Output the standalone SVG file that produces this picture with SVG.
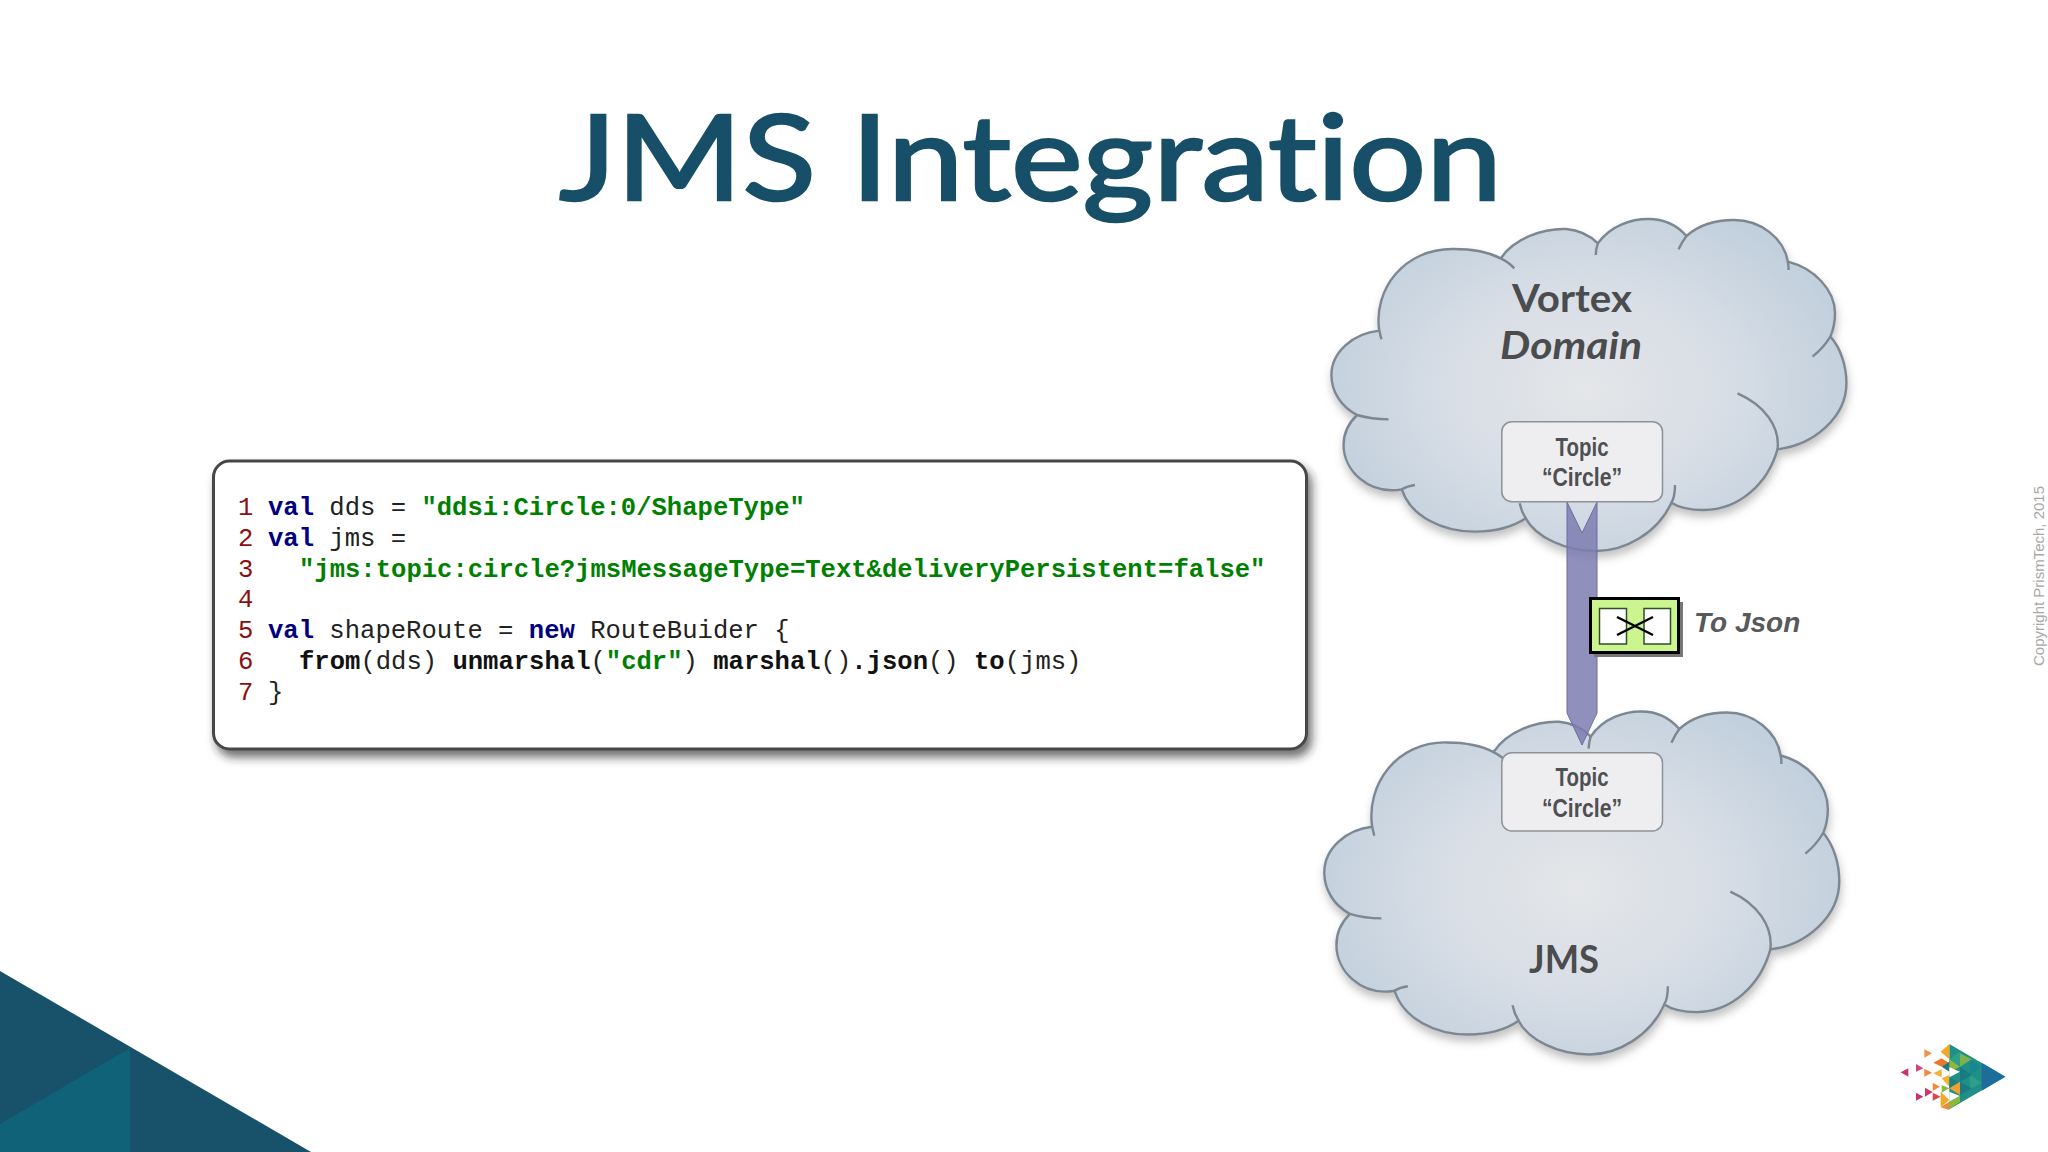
<svg xmlns="http://www.w3.org/2000/svg" width="2048" height="1152" viewBox="0 0 2048 1152">
<style>
.code{font-family:"Liberation Mono",monospace;font-size:25.57px;fill:#222;white-space:pre}
.n{fill:#8a1010}.k{fill:#000080;font-weight:bold}.s{fill:#008000;font-weight:bold}.b{font-weight:bold;fill:#111}
.topic{font-family:"Liberation Sans",sans-serif;font-weight:bold;font-size:26px;fill:#4f5053;text-anchor:middle}
.cl{font-family:Lato,"Liberation Sans",sans-serif;font-weight:bold;font-size:38px;fill:#4b4c4e;font-variant-ligatures:none}
.tb{fill:#eeeef0;stroke:#8d9296;stroke-width:1.5}
.co{fill:url(#cg);stroke:#7d8791;stroke-width:2.4;vector-effect:non-scaling-stroke}
.ti{fill:none;stroke:#7d8791;stroke-width:2.4;vector-effect:non-scaling-stroke}
</style>
<defs>
<radialGradient id="cg" gradientUnits="userSpaceOnUse" cx="800" cy="560" r="760" gradientTransform="translate(0 130) scale(1 .78)">
<stop offset="0" stop-color="#e4e6e8"/><stop offset=".5" stop-color="#d8dee6"/><stop offset="1" stop-color="#c2d0dd"/>
</radialGradient>
<filter id="cs" x="-10%" y="-10%" width="120%" height="120%"><feDropShadow dx="1" dy="6" stdDeviation="4" flood-color="#666" flood-opacity=".4"/></filter>
<filter id="bs" x="-5%" y="-10%" width="110%" height="125%"><feDropShadow dx="4" dy="7" stdDeviation="5" flood-color="#222" flood-opacity=".65"/></filter>
<g id="cloud">
<path class="co" d="M222 392C205 270 290 145 430 147C490 147 535 160 562 175C600 115 680 85 745 87C780 90 810 105 834 130C870 75 930 57 975 57C1020 57 1055 75 1082 108C1120 72 1170 60 1215 60C1290 60 1355 115 1366 185C1440 205 1498 270 1498 340C1498 360 1495 385 1485 410C1515 445 1530 500 1530 550C1530 650 1440 735 1337 748C1310 850 1230 930 1130 930C1100 930 1065 925 1040 908C1000 1000 910 1053 830 1053C740 1053 660 1010 632 955C590 985 540 995 490 995C400 995 310 950 285 868C190 885 122 810 122 735C122 700 135 670 160 645C115 620 88 575 88 525C88 455 150 400 222 392Z"/>
<path class="ti" d="M222 392Q225 405 228 418M562 175Q585 187 600 205M834 130Q829 145 828 165M1082 108Q1070 125 1060 148M1366 185Q1368 195 1368 210M1485 410Q1465 445 1435 470M1337 748C1345 680 1300 615 1225 580M1040 908C1050 890 1050 870 1050 855M632 955Q620 935 615 910M285 868Q300 858 322 855M160 645Q200 658 248 658"/>
</g>
</defs>
<rect width="2048" height="1152" fill="#fff"/>
<g id="corner">
<polygon points="0,971 311,1152 0,1152" fill="#17526a"/>
<polygon points="130,1048 130,1152 0,1152 0,1124" fill="#0f6277"/>
</g>
<text id="title" x="559" y="200" font-family="Lato,'Liberation Sans',sans-serif" font-size="118" fill="#174f68" stroke="#174f68" stroke-width="2.500" textLength="943" lengthAdjust="spacingAndGlyphs" style="font-variant-ligatures:none">JMS Integration</text>
<g id="code-box">
<rect x="213.500" y="461" width="1093" height="288" rx="16" fill="#fff" stroke="#474747" stroke-width="3" filter="url(#bs)"/>
<text class="code" y="515"><tspan class="n" x="238">1</tspan><tspan class="k" x="268">val</tspan> dds = <tspan class="s">"ddsi:Circle:0/ShapeType"</tspan></text>
<text class="code" y="546"><tspan class="n" x="238">2</tspan><tspan class="k" x="268">val</tspan> jms =</text>
<text class="code" y="577"><tspan class="n" x="238">3</tspan><tspan class="s" x="299">"jms:topic:circle?jmsMessageType=Text&amp;deliveryPersistent=false"</tspan></text>
<text class="code" y="607"><tspan class="n" x="238">4</tspan></text>
<text class="code" y="638"><tspan class="n" x="238">5</tspan><tspan class="k" x="268">val</tspan> shapeRoute = <tspan class="k">new</tspan> RouteBuider {</text>
<text class="code" y="669"><tspan class="n" x="238">6</tspan><tspan class="b" x="299">from</tspan>(dds) <tspan class="b">unmarshal</tspan>(<tspan class="s">"cdr"</tspan>) <tspan class="b">marshal</tspan>()<tspan class="b">.json</tspan>() <tspan class="b">to</tspan>(jms)</text>
<text class="code" y="700"><tspan class="n" x="238">7</tspan><tspan x="268">}</tspan></text>
</g>
<g id="vortex-cloud" filter="url(#cs)"><use href="#cloud" transform="translate(1300 200) scale(.35714 .33333)"/></g>
<g id="jms-cloud" filter="url(#cs)"><use href="#cloud" transform="translate(1292.860 691.800) scale(.35714 .3444)"/></g>
<g id="connectors">
<polygon points="1567,502 1582,533 1597,502 1597,713 1582,745 1567,713" fill="#7d7db0" fill-opacity=".85" stroke="#6d6d9c" stroke-width="1"/>
</g>
<g id="vortex-label">
<text class="cl" x="1512" y="312" textLength="120" lengthAdjust="spacingAndGlyphs">Vortex</text>
<text class="cl" x="1500" y="359" font-style="italic" textLength="142" lengthAdjust="spacingAndGlyphs">Domain</text>
</g>
<g id="topic-vortex">
<rect class="tb" x="1501.800" y="421.700" width="160.700" height="80" rx="10"/>
<text class="topic" x="1582" y="456" textLength="53" lengthAdjust="spacingAndGlyphs">Topic</text>
<text class="topic" x="1582" y="486" textLength="80" lengthAdjust="spacingAndGlyphs">“Circle”</text>
</g>
<g id="topic-jms">
<rect class="tb" x="1501.800" y="752.700" width="160.700" height="78.300" rx="10"/>
<text class="topic" x="1582" y="786" textLength="53" lengthAdjust="spacingAndGlyphs">Topic</text>
<text class="topic" x="1582" y="817" textLength="80" lengthAdjust="spacingAndGlyphs">“Circle”</text>
</g>
<text id="jms-label" class="cl" x="1529" y="973" textLength="70" lengthAdjust="spacingAndGlyphs">JMS</text>
<g id="to-json">
<rect x="1594" y="602" width="89" height="55" fill="#777"/>
<rect x="1590.500" y="598.500" width="88" height="54" fill="#ccf590" stroke="#000" stroke-width="3"/>
<rect x="1599.500" y="608.500" width="27" height="35.500" fill="#fff" stroke="#2f4f26" stroke-width="1.500"/>
<rect x="1644" y="608.500" width="26.500" height="35.500" fill="#fff" stroke="#2f4f26" stroke-width="1.500"/>
<path d="M1617 617L1653 635M1617 635L1653 617" stroke="#000" stroke-width="2.500" fill="none"/>
<text x="1694" y="632" font-family="'Liberation Sans',sans-serif" font-weight="bold" font-style="italic" font-size="28" fill="#58595b">To Json</text>
</g>
<text id="copyright" transform="translate(2044 666) rotate(-90)" font-family="'Liberation Sans',sans-serif" font-size="15" fill="#a8a8a8" textLength="180">Copyright PrismTech, 2015</text>
<g id="logo" transform="translate(1860 1020) scale(.33333)">
<polygon points="122,157 145,145 145,170" fill="#c8326e"/>
<polygon points="168,132 190,145 168,155" fill="#d43f7c"/>
<polygon points="168,218 190,230 168,242" fill="#c8326e"/>
<polygon points="195,203 218,216 195,230" fill="#d03a60"/>
<polygon points="218,218 242,230 218,242" fill="#d84a50"/>
<polygon points="193,88 216,100 193,113" fill="#f0934a"/>
<polygon points="193,146 216,158 193,170" fill="#ef8a3a"/>
<polygon points="218,188 240,200 218,212" fill="#ef8a3a"/>
<polygon points="220,128 245,115 268,130 245,140" fill="#e8762c"/>
<polygon points="220,160 245,148 245,172" fill="#f5b030"/>
<polygon points="268,72 436,170 268,268" fill="#1f9088"/>
<polygon points="365,128 436,170 365,212" fill="#1d6d9a"/>
<polygon points="330,120 365,142 330,165" fill="#1a8690"/>
<polygon points="330,165 365,188 330,208" fill="#2aa08a"/>
<polygon points="268,118 300,95 300,140" fill="#2f9f8a"/>
<polygon points="268,118 300,140 268,155" fill="#8fb83a"/>
<polygon points="300,140 335,165 300,185" fill="#1a7a80"/>
<polygon points="300,100 335,118 300,140" fill="#7fb24a"/>
<polygon points="245,140 268,125 268,155" fill="#1f7a78"/>
<polygon points="242,95 268,72 268,118" fill="#f5a623"/>
<polygon points="268,142 300,155 268,172" fill="#fff"/>
<polygon points="245,175 268,165 268,200" fill="#f5b030"/>
<polygon points="268,172 300,190 268,205" fill="#1c7f80"/>
<polygon points="268,205 300,185 300,225" fill="#f0a030"/>
<polygon points="245,195 268,205 245,218" fill="#8fb83a"/>
<polygon points="300,185 335,205 300,225" fill="#1a7a80"/>
<polygon points="268,215 300,228 268,245" fill="#fff"/>
<polygon points="268,245 300,228 300,245 268,268" fill="#8fb83a"/>
<polygon points="242,215 268,240 242,262" fill="#f5a623"/>
<polygon points="242,262 268,245 268,270" fill="#ef8a3a"/>
</g>
</svg>
